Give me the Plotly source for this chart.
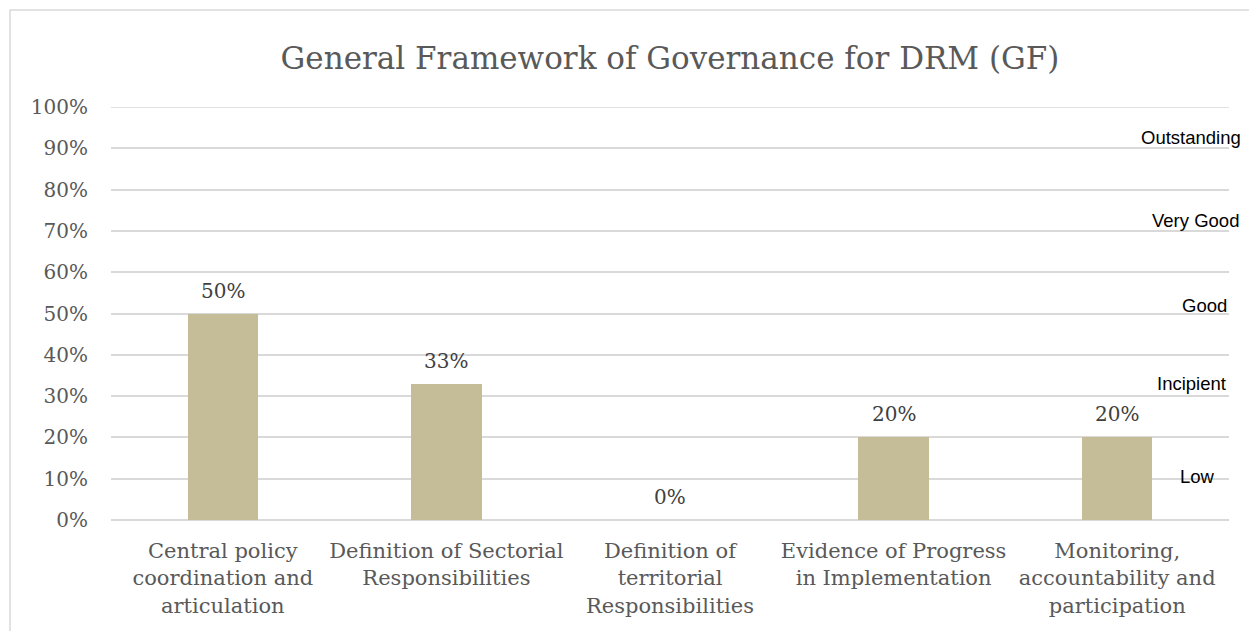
import plotly.graph_objects as go

categories = [
    "Central policy<br>coordination and<br>articulation",
    "Definition of Sectorial<br>Responsibilities",
    "Definition of<br>territorial<br>Responsibilities",
    "Evidence of Progress<br>in Implementation",
    "Monitoring,<br>accountability and<br>participation",
]
values = [0.50, 0.33, 0.00, 0.20, 0.20]
value_labels = ["50%", "33%", "0%", "20%", "20%"]
level_names = ["Outstanding", "Very Good", "Good", "Incipient", "Low"]
level_y = [0.927, 0.724, 0.52, 0.33, 0.106]
level_x = [1.0125, 1.011, 1.0, 0.999, 0.989]

serif = "DejaVu Serif"
W, H = 1257, 631
OFF = 8  # page body margin offset
L, R, T = 111 - OFF, 28 + OFF, 107 - OFF
B = H - (520 - OFF)
pw, ph = W - L - R, H - T - B

fig = go.Figure()
fig.add_trace(go.Bar(
    x=categories, y=values,
    marker=dict(color="#c4bd97", line=dict(width=0)),
    width=0.315, cliponaxis=False, showlegend=False,
))

for cat, v, lab in zip(categories, values, value_labels):
    fig.add_annotation(x=cat, y=v, xref="x", yref="y", text=lab,
                       showarrow=False, xanchor="center", yanchor="bottom",
                       yshift=9,
                       font=dict(family=serif, size=20, color="#404040"))

for name, yv, xv in zip(level_names, level_y, level_x):
    fig.add_annotation(x=xv, y=yv, xref="paper", yref="y", text=name,
                       showarrow=False, xanchor="right", yanchor="middle",
                       font=dict(family="Liberation Sans", size=18.5, color="#000000"))

fig.add_shape(type="rect", xref="paper", yref="paper",
              x0=(2 - L) / pw, x1=(W + 5 - L) / pw,
              y0=-(B + 10) / ph, y1=(ph + T - 2) / ph,
              line=dict(color="#d9d9d9", width=1.5), layer="below")
fig.add_shape(type="line", xref="paper", yref="y", x0=0, x1=1, y0=1, y1=1,
              line=dict(color="#d9d9d9", width=1.5), layer="below")

fig.update_layout(
    width=W, height=H,
    margin=dict(l=L, r=R, t=T, b=B),
    paper_bgcolor="white", plot_bgcolor="white",
    title=dict(text="General Framework of Governance for DRM (GF)",
               x=0.5, xref="paper", xanchor="center",
               y=1 - (58 - OFF) / H, yref="container", yanchor="middle",
               font=dict(family=serif, size=31, color="#595959")),
    bargap=0.0,
)
fig.update_xaxes(showgrid=False, showline=False, ticks="", ticklabelstandoff=16,
                 tickfont=dict(family=serif, size=21, color="#595959"))
fig.update_yaxes(range=[0, 1], tickvals=[i / 10 for i in range(11)], tickformat=".0%",
                 showgrid=True, gridcolor="#d9d9d9", gridwidth=1.5,
                 zeroline=True, zerolinecolor="#d9d9d9", zerolinewidth=1.5,
                 showline=False, ticks="", ticklabelstandoff=22,
                 tickfont=dict(family=serif, size=20, color="#595959"))

fig.write_html("out.html")
